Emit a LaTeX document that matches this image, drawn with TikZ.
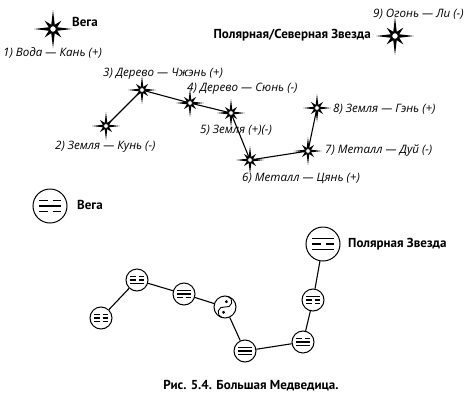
\documentclass[tikz,border=0pt]{standalone}
\usepackage{fontspec}
\setmainfont{PT Sans}
\newfontfamily\labelfont{Open Sans}
\usetikzlibrary{positioning, calc}
\tikzset{
  % --- star map (upper half) ---
  starlabel/.style={font=\labelfont\fontsize{11.6}{13}\selectfont\itshape, inner sep=0pt, anchor=west},
  namelabel/.style={font=\fontsize{13}{15}\selectfont\bfseries, inner sep=0pt},
  starlink/.style={line width=1.1pt},
  compstar/.pic={
    \fill[black] (0:1) -- (22.5:0.24) -- (45:0.62) -- (67.5:0.24) -- (90:1) -- (112.5:0.24)
      -- (135:0.62) -- (157.5:0.24) -- (180:1) -- (202.5:0.24) -- (225:0.62) -- (247.5:0.24)
      -- (270:1) -- (292.5:0.24) -- (315:0.62) -- (337.5:0.24) -- cycle;
    \filldraw[fill=white, draw=black, line width=0.6pt] (0,0) circle (0.17);
  },
  % --- trigram map (lower half) ---
  bigtrig/.style={draw, circle, minimum size=34pt, inner sep=0pt, line width=1pt},
  smalltrig/.style={draw, circle, minimum size=22pt, inner sep=0pt, line width=1pt},
  trigline/.style={line width=1.2pt},
  pics/trigram/.style={code={
    \foreach \s [count=\i] in {#1}{
      \pgfmathsetmacro\yy{(\i-2)*5.5}
      \ifnum\s=1
        \draw[trigline] (-11,\yy) -- (11,\yy);
      \else
        \draw[trigline] (-11,\yy) -- (-2.5,\yy) (2.5,\yy) -- (11,\yy);
      \fi
    }
  }},
  yinyang/.pic={
    \draw[line width=0.9pt] (0,-11) arc (-90:90:5.5) arc (-90:-270:5.5);
    \fill (0,-5.5) circle (1.6);
    \fill (0,5.5) circle (1.6);
  },
}

\begin{document}
\begin{tikzpicture}[x=1pt, y=-1pt]
    \useasboundingbox (0,0) rectangle (467,400);
    % stars of the dipper
    \foreach \n/\x/\y in {2/106/126, 3/142/90, 4/190/103, 5/231/113, 6/250/160, 7/308/151, 8/317/108}{
      \coordinate (s\n) at (\x,\y); }
    \coordinate (vega) at (53,29);
    \coordinate (polar) at (395,36);
    \draw[starlink] (s2) -- (s3) -- (s4) -- (s5) -- (s6) -- (s7) -- (s8);
    \pic[scale=19] at (vega) {compstar};
    \pic[scale=19] at (polar) {compstar};
    \foreach \n in {2,...,8}{ \pic[scale=14] at (s\n) {compstar}; }
    % star labels
    \node[namelabel, anchor=west] (lvega) at (72,22) {Вега};
    \node[starlabel] (l1) at (3,53) {1) Вода — Кань (+)};
    \node[starlabel] (l9) at (373,14) {9) Огонь — Ли (-)};
    \node[namelabel, anchor=east] (lpolar) at (371,35) {Полярная/Северная Звезда};
    \node[starlabel] (l3) at (103,74) {3) Дерево — Чжэнь (+)};
    \node[starlabel] (l4) at (187,89) {4) Дерево — Сюнь (-)};
    \node[starlabel] (l5) at (200,130) {5) Земля (+)(-)};
    \node[starlabel] (l2) at (55,147) {2) Земля — Кунь (-)};
    \node[starlabel] (l6) at (242,178) {6) Металл — Цянь (+)};
    \node[starlabel] (l7) at (325,151) {7) Металл — Дуй (-)};
    \node[starlabel] (l8) at (333,109) {8) Земля — Гэнь (+)};
    % trigram circles
    \node[bigtrig] (tvega) at (50,206) {};
    \node[bigtrig] (tpolar) at (323,244) {};
    \foreach \n/\x/\y in {2/101/318, 3/137/280, 4/184/294, 5/225/307, 6/245/351, 7/303/342, 8/313/300}{
      \node[smalltrig] (t\n) at (\x,\y) {}; }
    \pic at (tvega) {trigram={0,1,0}};
    \pic at (tpolar) {trigram={1,0,1}};
    \foreach \n/\code in {2/{0,0,0}, 3/{0,0,1}, 4/{1,1,0}, 6/{1,1,1}, 7/{0,1,1}, 8/{1,0,0}}{
      \pic[scale=0.6] at (t\n) {trigram/.expanded=\code}; }
    \pic[rotate=-15] at (t5) {yinyang};
    \draw[starlink] (t2) -- (t3) -- (t4) -- (t5) -- (t6) -- (t7) -- (t8) -- (tpolar);
    \node[namelabel, anchor=west] (ltvega) at (77,205) {Вега};
    \node[namelabel, anchor=west] (ltpolar) at (348,244) {Полярная Звезда};
    % caption
    \node[namelabel] (caption) at (251,386) {Рис. 5.4. Большая Медведица.};
  \end{tikzpicture}
\end{document}
